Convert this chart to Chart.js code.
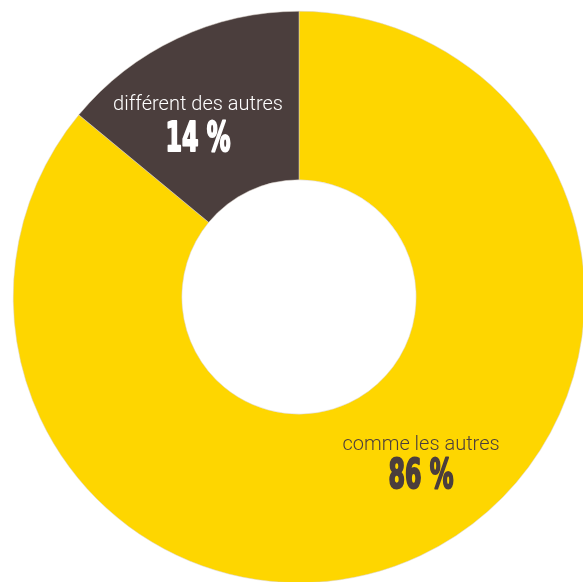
<!DOCTYPE html>
<html>
<head>
<meta charset="utf-8">
<script src="https://cdn.jsdelivr.net/npm/chart.js@4/dist/chart.umd.min.js"></script>
<style>
    html, body { margin: 0; padding: 0; background: #fff; overflow: hidden; }
    #wrap { position: absolute; left: 0; top: 0; width: 598px; height: 594px; }
</style>
</head>
<body>
<div id="wrap"><canvas id="donut"></canvas></div>
<script>
const categories = ['comme les autres', 'différent des autres'];
const shares = [86, 14];
const shareLabels = ['86 %', '14 %'];
const sliceColors = ['#fed600', '#4b3e3d'];
const textColors = ['#4b3e3d', '#ffffff'];

document.addEventListener('DOMContentLoaded', () => {
    // text block offsets from the doughnut centre (x, baseline of name, baseline of value)
    const labelSpots = [
        { dx: 122, y1: 153, y2: 191 },
        { dx: -101, y1: -187, y2: -146 }
    ];

    const sliceText = {
        id: 'sliceText',
        afterDatasetsDraw(chart) {
            const ctx = chart.ctx;
            const arcs = chart.getDatasetMeta(0).data;
            arcs.forEach((arc, i) => {
                const spot = labelSpots[i];
                const cx = arc.x + spot.dx;
                ctx.save();
                ctx.fillStyle = textColors[i];
                ctx.strokeStyle = textColors[i];
                ctx.textAlign = 'center';
                ctx.textBaseline = 'alphabetic';
                ctx.font = '300 20px Roboto, "Liberation Sans", sans-serif';
                ctx.fillText(categories[i], cx, arc.y + spot.y1);
                // condensed heavy figure
                ctx.translate(cx, arc.y + spot.y2);
                ctx.scale(0.66, 1);
                ctx.font = 'bold 40px "DejaVu Sans Condensed", "DejaVu Sans", sans-serif';
                ctx.lineWidth = 2;
                ctx.lineJoin = 'round';
                ctx.strokeText(shareLabels[i], 0, 0);
                ctx.fillText(shareLabels[i], 0, 0);
                ctx.restore();
            });
        }
    };

    const ctx = document.querySelector('#donut').getContext('2d');
    new Chart(ctx, {
        type: 'doughnut',
        data: {
            labels: categories,
            datasets: [{
                data: shares,
                backgroundColor: sliceColors,
                borderColor: '#d8d0c8',
                borderWidth: 0.5,
                hoverOffset: 0
            }]
        },
        options: {
            responsive: true,
            maintainAspectRatio: false,
            animation: false,
            cutout: '41%',
            layout: { padding: 11 },
            plugins: {
                legend: { display: false },
                tooltip: { enabled: false }
            }
        },
        plugins: [sliceText]
    });
});
</script>
</body>
</html>
